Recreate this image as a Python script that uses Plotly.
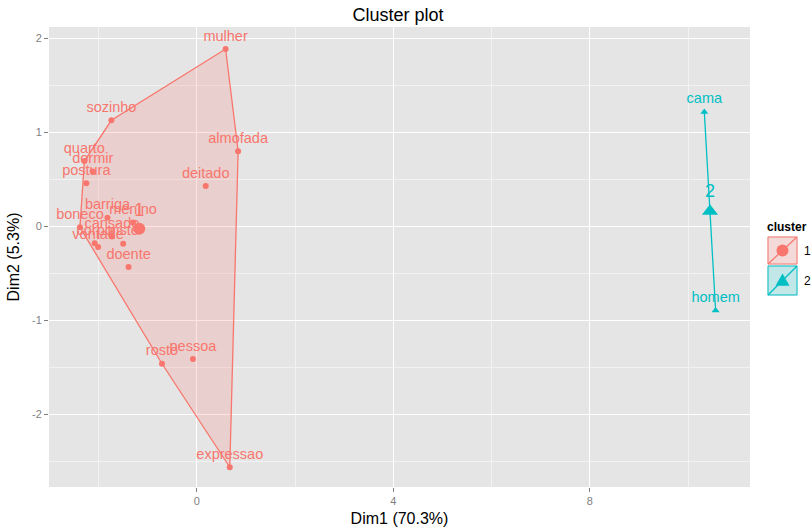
import plotly.graph_objects as go
import numpy as np

# ---- data ----
words_c1 = ["mulher", "sozinho", "almofada", "quarto", "dormir", "postura", "deitado",
            "barriga", "menino", "boneco", "cansado", "corpo", "triste", "vontade",
            "doente", "rosto", "pessoa", "expressao"]
dim1_c1 = [0.585, -1.74, 0.84, -2.29, -2.12, -2.25, 0.18,
           -1.82, -1.30, -2.38, -1.73, -2.08, -1.50, -2.01,
           -1.39, -0.71, -0.08, 0.67]
dim2_c1 = [1.886, 1.128, 0.80, 0.695, 0.585, 0.46, 0.43,
           0.093, 0.043, -0.01, -0.106, -0.18, -0.184, -0.22,
           -0.43, -1.46, -1.41, -2.56]

words_c2 = ["cama", "homem"]
dim1_c2 = [10.33, 10.56]
dim2_c2 = [1.216, -0.894]

cluster_ids = ["1", "2"]
x_ticks = [0, 4, 8]
x_ticktext = ["0", "4", "8"]
y_ticks = [-2, -1, 0, 1, 2]
y_ticktext = ["-2", "-1", "0", "1", "2"]

RED = "#F8766D"
TEAL = "#00BFC4"
RED_FILL = "rgba(248,118,109,0.2)"
TEAL_FILL = "rgba(0,191,196,0.2)"
FONT = "Liberation Sans, Arial, sans-serif"


def convex_hull(xs, ys):
    pts = sorted(set(zip(xs, ys)))
    if len(pts) <= 2:
        return pts

    def cross(o, a, b):
        return (a[0] - o[0]) * (b[1] - o[1]) - (a[1] - o[1]) * (b[0] - o[0])

    lower, upper = [], []
    for p in pts:
        while len(lower) >= 2 and cross(lower[-2], lower[-1], p) <= 0:
            lower.pop()
        lower.append(p)
    for p in reversed(pts):
        while len(upper) >= 2 and cross(upper[-2], upper[-1], p) <= 0:
            upper.pop()
        upper.append(p)
    return lower[:-1] + upper[:-1]


fig = go.Figure()

clusters = [
    (words_c1, dim1_c1, dim2_c1, RED, RED_FILL, "circle", cluster_ids[0]),
    (words_c2, dim1_c2, dim2_c2, TEAL, TEAL_FILL, "triangle-up", cluster_ids[1]),
]

for words, xs, ys, col, fillcol, sym, cid in clusters:
    hull = convex_hull(xs, ys)
    hx = [p[0] for p in hull] + [hull[0][0]]
    hy = [p[1] for p in hull] + [hull[0][1]]
    fig.add_trace(go.Scatter(x=hx, y=hy, mode="lines", fill="toself",
                             fillcolor=fillcol, line=dict(color=col, width=1.3),
                             hoverinfo="skip"))

for words, xs, ys, col, fillcol, sym, cid in clusters:
    fig.add_trace(go.Scatter(x=xs, y=ys, mode="markers+text", text=words,
                             textposition="top center",
                             textfont=dict(family=FONT, size=14.5, color=col),
                             marker=dict(symbol=sym, size=6 if sym == "circle" else 7,
                                         color=col), cliponaxis=False))
    cx, cy = float(np.mean(xs)), float(np.mean(ys))
    fig.add_trace(go.Scatter(x=[cx], y=[cy], mode="markers+text", text=[cid],
                             textposition="top center",
                             textfont=dict(family=FONT, size=18, color=col),
                             marker=dict(symbol=sym, size=12 if sym == "circle" else 14,
                                         color=col)))

# ---- manual ggplot-style legend (paper coords) ----
L, R, T, B = 49, 750, 27, 487


def px(x):
    return (x - L) / (R - L)


def py(y):
    return (B - y) / (B - T)


shapes = []
annotations = []
keys = [(236, 265, RED, RED_FILL, "circle", cluster_ids[0]),
        (265, 296, TEAL, TEAL_FILL, "triangle", cluster_ids[1])]
for y0, y1, col, fillcol, sym, cid in keys:
    x0, x1 = 767, 798
    shapes.append(dict(type="rect", xref="paper", yref="paper",
                       x0=px(x0), x1=px(x1), y0=py(y1), y1=py(y0),
                       fillcolor="#F2F2F2", line=dict(width=0), layer="above"))
    shapes.append(dict(type="rect", xref="paper", yref="paper",
                       x0=px(x0 + 1), x1=px(x1 - 1), y0=py(y1 - 1), y1=py(y0 + 1),
                       fillcolor=fillcol, line=dict(color=col, width=1), layer="above"))
    shapes.append(dict(type="line", xref="paper", yref="paper",
                       x0=px(x0 + 1), x1=px(x1 - 1), y0=py(y1 - 1), y1=py(y0 + 1),
                       line=dict(color=col, width=1.2), layer="above"))
    cxp, cyp = (x0 + x1) / 2, (y0 + y1) / 2
    if sym == "circle":
        r = 6
        shapes.append(dict(type="circle", xref="paper", yref="paper",
                           x0=px(cxp - r), x1=px(cxp + r), y0=py(cyp + r), y1=py(cyp - r),
                           fillcolor=col, line=dict(color=col, width=0), layer="above"))
    else:
        h = 7
        path = "M {} {} L {} {} L {} {} Z".format(px(cxp), py(cyp - h),
                                                  px(cxp - h), py(cyp + h * 0.75),
                                                  px(cxp + h), py(cyp + h * 0.75))
        shapes.append(dict(type="path", xref="paper", yref="paper", path=path,
                           fillcolor=col, line=dict(color=col, width=0), layer="above"))
    annotations.append(dict(xref="paper", yref="paper", x=px(802), y=py(cyp),
                            text=cid, showarrow=False, xanchor="left", yanchor="middle",
                            font=dict(family=FONT, size=12, color="black")))

annotations.append(dict(xref="paper", yref="paper", x=px(765), y=py(227),
                        text="<b>cluster</b>", showarrow=False, xanchor="left",
                        yanchor="middle", font=dict(family=FONT, size=12, color="black")))

fig.update_layout(
    width=812, height=528,
    margin=dict(l=L, r=812 - R, t=T, b=528 - B, autoexpand=False),
    plot_bgcolor="#E5E5E5", paper_bgcolor="white",
    showlegend=False,
    shapes=shapes, annotations=annotations,
    title=dict(text="Cluster plot", x=(398 / 812), xanchor="center",
               y=1 - 15 / 528, yanchor="middle",
               font=dict(family=FONT, size=18, color="black")),
    xaxis=dict(range=[-3.01, 11.26], tickvals=x_ticks, ticktext=x_ticktext,
               ticks="outside", ticklen=4,
               tickcolor="#7F7F7F", tickwidth=1, automargin=False,
               tickfont=dict(family=FONT, size=11, color="#7F7F7F"),
               showgrid=True, gridcolor="white", gridwidth=1.2, zeroline=False,
               showline=False,
               minor=dict(tickvals=[-2, 2, 6, 10], showgrid=True,
                          gridcolor="#F2F2F2", gridwidth=0.6, ticks=""),
               title=dict(text="Dim1 (70.3%)", standoff=6,
                          font=dict(family=FONT, size=16, color="black"))),
    yaxis=dict(range=[-2.77, 2.12], tickvals=y_ticks, ticktext=y_ticktext,
               ticks="outside", ticklen=4,
               tickcolor="#7F7F7F", tickwidth=1, automargin=False,
               tickfont=dict(family=FONT, size=11, color="#7F7F7F"),
               showgrid=True, gridcolor="white", gridwidth=1.2, zeroline=False,
               showline=False,
               minor=dict(tickvals=[-2.5, -1.5, -0.5, 0.5, 1.5], showgrid=True,
                          gridcolor="#F2F2F2", gridwidth=0.6, ticks=""),
               title=dict(text="Dim2 (5.3%)", standoff=8,
                          font=dict(family=FONT, size=16, color="black"))),
)

fig.write_html("out.html", config={"displayModeBar": False},
               post_script="document.body.style.margin='0';document.body.style.overflow='hidden';")
